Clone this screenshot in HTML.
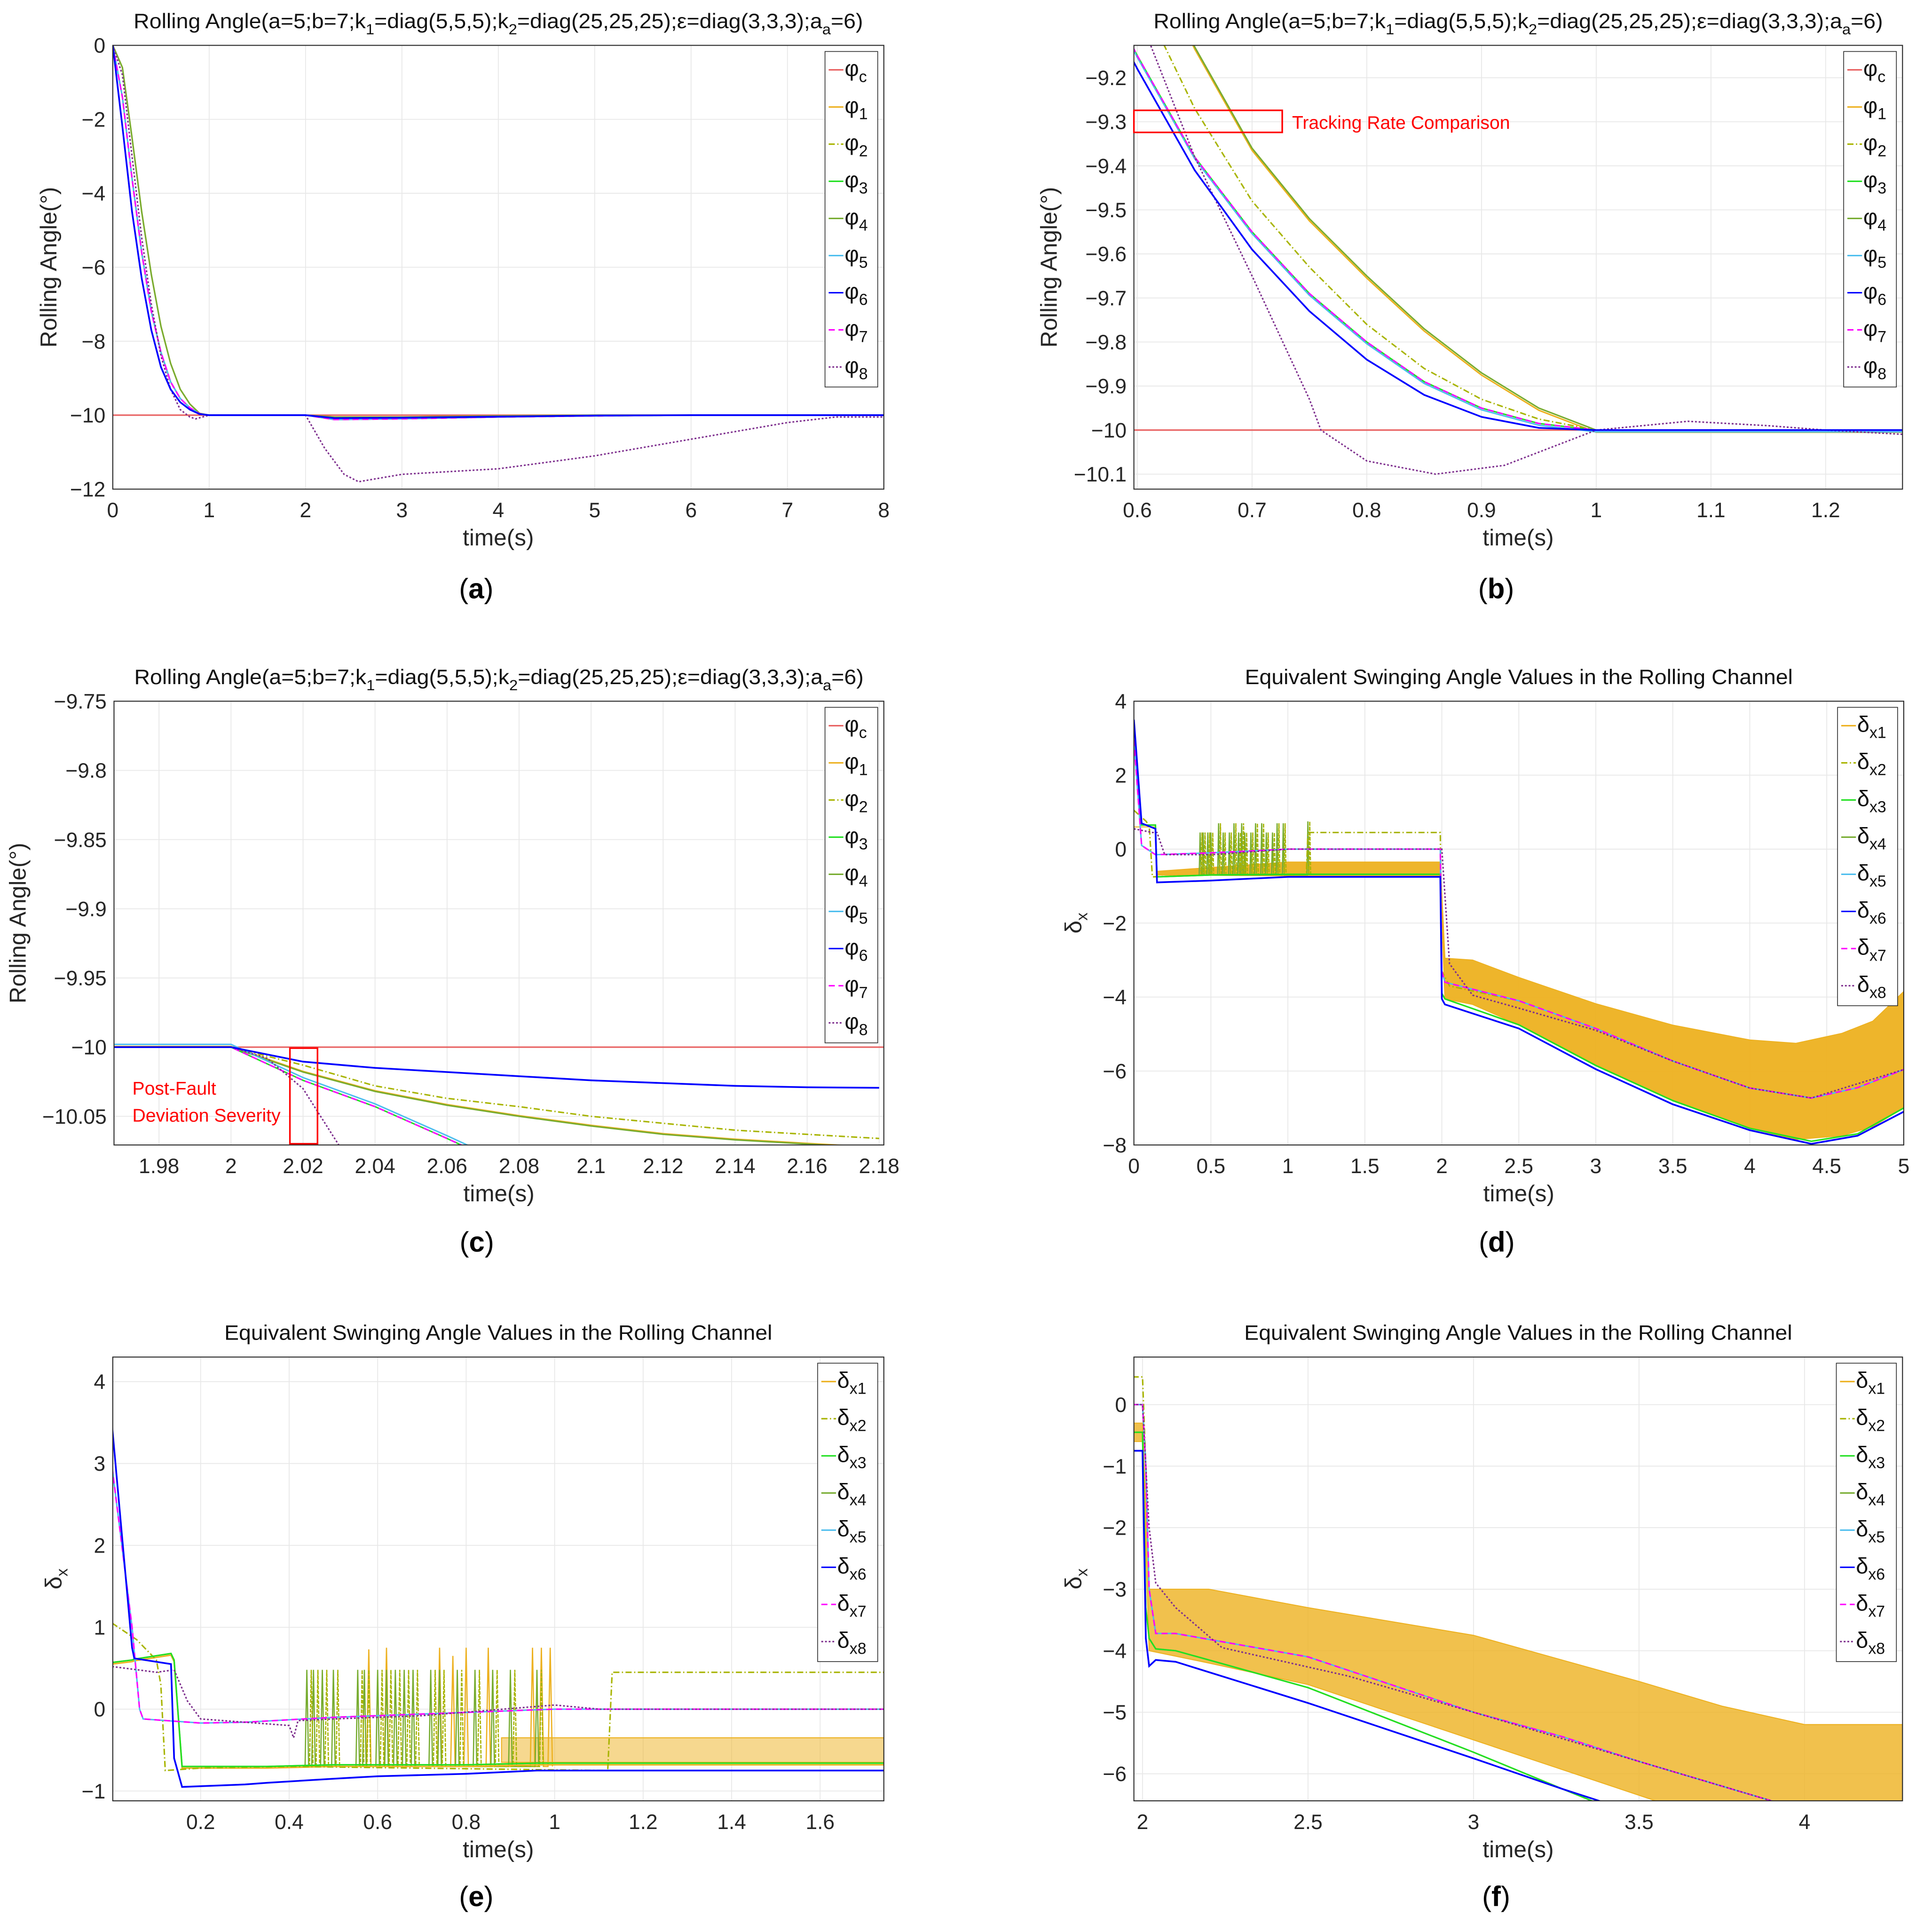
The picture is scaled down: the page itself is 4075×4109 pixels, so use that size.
<!DOCTYPE html>
<html><head><meta charset="utf-8"><style>
html,body{margin:0;padding:0;background:#fff}
svg{display:block}
text{font-family:"Liberation Sans",sans-serif}
</style></head><body>
<svg id="fig" xmlns="http://www.w3.org/2000/svg" width="4075" height="4109" viewBox="0 0 1563 1576" preserveAspectRatio="none"></svg>
<script>
// ---------- Panel (a) data ----------
const a_t = [0,0.1,0.2,0.3,0.4,0.5,0.6,0.7,0.8,0.9,1,2,2.3,3,4,5,6,7,8];
const a_slow = [0,-0.6,-2.5,-4.5,-6.2,-7.6,-8.6,-9.3,-9.7,-9.95,-10,-10,-10.05,-10.05,-10.02,-10,-10,-10,-10];
const a_mid = [0,-1.4,-3.6,-5.6,-7.2,-8.3,-9.1,-9.55,-9.8,-9.96,-10,-10,-10.12,-10.1,-10.05,-10.02,-10,-10,-10];
const a_fast = [0,-2.2,-4.5,-6.3,-7.7,-8.7,-9.3,-9.65,-9.85,-9.97,-10,-10,-10.08,-10.07,-10.04,-10.01,-10,-10,-10];
const a8_t = [0,0.1,0.2,0.3,0.4,0.5,0.6,0.7,0.8,0.86,1,2,2.2,2.4,2.55,3,4,5,6,7,7.5,8];
const a8_y = [0,-0.8,-3,-5.2,-7,-8.4,-9.3,-9.85,-10.05,-10.1,-10,-10,-10.9,-11.6,-11.8,-11.6,-11.45,-11.1,-10.65,-10.2,-10.05,-10.05];
const a_c = [-10,-10];
const a_ct = [0,8];
// ---------- Panel (b) data ----------
const b_t = [0.58,0.6,0.65,0.7,0.75,0.8,0.85,0.9,0.95,1.0,1.1,1.27];
const b_phi1 = [-8.7,-8.85,-9.13,-9.36,-9.52,-9.65,-9.77,-9.87,-9.95,-10,-10,-10];
const b_phi2 = [-8.9,-9.0,-9.27,-9.48,-9.63,-9.76,-9.86,-9.93,-9.975,-10,-10,-10];
const b_phi3 = [-9.05,-9.15,-9.38,-9.55,-9.69,-9.8,-9.89,-9.95,-9.985,-10,-10,-10];
const b_phi6 = [-9.08,-9.18,-9.41,-9.59,-9.73,-9.84,-9.92,-9.97,-9.995,-10,-10,-10];
const b8_t = [0.58,0.6,0.65,0.7,0.75,0.76,0.8,0.86,0.92,1.0,1.08,1.15,1.2,1.27];
const b8_y = [-8.9,-9.05,-9.38,-9.65,-9.93,-10.0,-10.07,-10.1,-10.08,-10.0,-9.98,-9.99,-10.0,-10.01];
// ---------- Panel (c) data ----------
const c_t = [1.96,2.0,2.02,2.04,2.06,2.08,2.1,2.12,2.14,2.16,2.18];
const c_phi6 = [-10,-10,-10.0105,-10.015,-10.018,-10.021,-10.024,-10.026,-10.028,-10.029,-10.0294];
const c_phi2 = [-10,-10,-10.013,-10.028,-10.037,-10.043,-10.05,-10.055,-10.06,-10.063,-10.066];
const c_phi4 = [-10,-10,-10.018,-10.032,-10.042,-10.05,-10.057,-10.063,-10.067,-10.070,-10.073];
const c_phi3 = [-10,-10,-10.024,-10.043,-10.066,-10.09,-10.11,-10.13,-10.15,-10.17,-10.19];
const c8_t = [1.96,2.0,2.01,2.02,2.03,2.04];
const c8_y = [-10,-10,-10.008,-10.03,-10.071,-10.12];
// ---------- Panel (d) data ----------
const d_t = [0,0.05,0.14,0.15,0.5,1.0,1.99,2.0,2.02,2.5,3,3.5,4,4.4,4.7,5];
const d_blue = [3.5,0.7,0.55,-0.9,-0.85,-0.75,-0.75,-4.05,-4.2,-4.85,-5.95,-6.9,-7.6,-7.97,-7.75,-7.1];
const d_green = [2.9,0.65,0.65,-0.75,-0.7,-0.68,-0.68,-3.9,-4.05,-4.75,-5.85,-6.8,-7.55,-7.9,-7.7,-7.0];
const d_mag = [2.95,0.1,-0.15,-0.15,-0.1,0,0,-3.3,-3.6,-4.1,-4.85,-5.73,-6.46,-6.73,-6.45,-5.96];
const d2_t = [0,0.08,0.1,0.12,0.5,1.12,1.13,1.99,2.0,2.05,2.5,3,3.5,4,4.4,4.7,5];
const d2_y = [1.05,0.75,0.6,-0.75,-0.7,-0.7,0.45,0.45,-3.3,-3.7,-4.1,-4.85,-5.73,-6.46,-6.73,-6.45,-5.96];
const d8_t = [0,0.12,0.15,0.2,0.5,1,2,2.05,2.2,2.5,3,3.5,4,4.4,5];
const d8_y = [0.55,0.45,0.45,-0.15,-0.15,0,0,-3.1,-3.95,-4.3,-4.9,-5.73,-6.46,-6.73,-5.96];
const d1_t = [0,0.14,0.15,1.0,1.99,2.02,2.2,2.5,3,3.5,4,4.3,4.6,4.8,5];
const d1_hi = [0.6,0.6,-0.6,-0.35,-0.35,-2.95,-3.0,-3.47,-4.18,-4.76,-5.16,-5.25,-4.98,-4.65,-3.85];
const d1_lo = [0.6,0.6,-0.7,-0.72,-0.72,-4.05,-4.2,-4.75,-5.85,-6.8,-7.55,-7.85,-7.75,-7.5,-7.0];
const d_spx = [0.43,0.45,0.48,0.5,0.55,0.58,0.62,0.65,0.68,0.7,0.72,0.76,0.79,0.83,0.86,0.9,0.93,0.97,1.13];
const d_spy = [0.45,0.45,0.45,0.45,0.7,0.45,0.45,0.7,0.45,0.7,0.45,0.45,0.7,0.7,0.45,0.45,0.7,0.7,0.75];
// ---------- Panel (e) data ----------
const e_t = [0,0.045,0.05,0.133,0.14,0.158,0.3,0.35,0.5,0.6,0.8,0.96,1.2,1.75];
const e_blue = [3.45,0.75,0.62,0.55,-0.6,-0.95,-0.92,-0.9,-0.85,-0.82,-0.79,-0.75,-0.75,-0.75];
const e_green = [0.57,0.6,0.61,0.68,0.6,-0.7,-0.7,-0.7,-0.68,-0.68,-0.68,-0.66,-0.66,-0.66];
const e3_t = [0,0.045,0.062,0.07,0.2,0.3,0.5,0.8,1.0,1.1,1.75];
const e_mag = [2.95,1.0,0.0,-0.12,-0.17,-0.16,-0.1,-0.04,0.0,0.0,0.0];
const e2_t = [0,0.055,0.1,0.11,0.12,0.2,0.4,1.12,1.13,1.75];
const e2_y = [1.05,0.85,0.6,0.3,-0.75,-0.72,-0.7,-0.75,0.45,0.45];
const e8_t = [0,0.1,0.14,0.17,0.2,0.3,0.4,0.41,0.42,0.5,0.7,1.0,1.1,1.75];
const e8_y = [0.52,0.45,0.48,0.1,-0.12,-0.16,-0.2,-0.35,-0.14,-0.12,-0.08,0.05,0.0,0.0];
const e1_t = [0.88,1.0,1.2,1.4,1.6,1.75];
const e1_hi = [-0.35,-0.35,-0.35,-0.35,-0.35,-0.35];
const e1_lo = [-0.65,-0.65,-0.65,-0.65,-0.65,-0.65];
const e_spx = [0.44,0.455,0.475,0.5,0.555,0.57,0.6,0.62,0.64,0.66,0.68,0.72,0.74,0.78,0.82,0.86,0.9,0.96];
const e_spy = [0.48,0.48,0.48,0.48,0.48,0.48,0.48,0.48,0.48,0.48,0.48,0.48,0.48,0.48,0.48,0.48,0.48,0.48];
const e_osx = [0.58,0.62,0.74,0.77,0.8,0.85,0.95,0.97,0.99];
const e_osy = [0.73,0.75,0.75,0.65,0.75,0.75,0.75,0.75,0.75];
// ---------- Panel (f) data ----------
const f_t = [1.97,2.0,2.01,2.02,2.04,2.1,2.5,3,3.27,3.5,4,4.3];
const f_blue = [-0.75,-0.75,-3.8,-4.25,-4.15,-4.18,-4.85,-5.75,-6.25,-6.65,-7.5,-8.0];
const f_green = [-0.45,-0.45,-3.3,-3.8,-3.97,-4.0,-4.6,-5.65,-6.25,-6.75,-7.8,-8.4];
const f_mag = [0,0,-1.0,-3.0,-3.72,-3.72,-4.1,-5.0,-5.4,-5.8,-6.6,-7.0];
const f_d2 = [0.45,0.45,-1.0,-3.0,-3.72,-3.72,-4.1,-5.0,-5.4,-5.8,-6.6,-7.0];
const f8_t = [1.97,2.0,2.02,2.04,2.1,2.24,2.62,3,3.5,4,4.3];
const f8_y = [0,0,-2.0,-2.9,-3.3,-3.95,-4.41,-5.0,-5.8,-6.6,-7.0];
const f1_t = [1.97,2.0,2.02,2.2,2.5,3,3.5,3.75,4,4.3];
const f1_hi = [-0.3,-0.3,-3.0,-3.0,-3.3,-3.75,-4.5,-4.9,-5.2,-5.2];
const f1_lo = [-0.6,-0.6,-4.0,-4.2,-4.55,-5.45,-6.35,-6.8,-7.2,-7.6];

const NS="http://www.w3.org/2000/svg";
const svg=document.getElementById('fig');
function el(tag,attrs,parent){const e=document.createElementNS(NS,tag);for(const k in attrs)e.setAttribute(k,attrs[k]);(parent||svg).appendChild(e);return e;}

const C={c:'#e86060',o:'#EDB120',y:'#a8b400',g:'#22e022',ol:'#77AC30',cy:'#4DBEEE',b:'#0000ff',m:'#ff00ff',p:'#7E2F8E'};
const STY=[[C.c,''],[C.o,''],[C.y,'5,2,1,2'],[C.g,''],[C.ol,''],[C.cy,''],[C.b,''],[C.m,'5,3'],[C.p,'1.5,1.5']];

function panel(P,idx){
  const g=el('g',{});
  
  
  const sx=v=>P.x0+(v-P.xmin)/(P.xmax-P.xmin)*(P.x1-P.x0);
  const sy=v=>P.y1-(v-P.ymin)/(P.ymax-P.ymin)*(P.y1-P.y0);
  el('rect',{x:P.x0,y:P.y0,width:P.x1-P.x0,height:P.y1-P.y0,fill:'#fff'},g);
  const grid=el('g',{stroke:'#e8e8e8','stroke-width':0.7},g);
  
  P.xt.forEach(v=>{el('line',{x1:sx(v),x2:sx(v),y1:P.y0,y2:P.y1},grid);});
  P.yt.forEach(v=>{el('line',{y1:sy(v),y2:sy(v),x1:P.x0,x2:P.x1},grid);});
  const cid='clip'+idx;
  const cp=el('clipPath',{id:cid},g);el('rect',{x:P.x0,y:P.y0,width:P.x1-P.x0,height:P.y1-P.y0},cp);
  const plot=el('g',{'clip-path':'url(#'+cid+')'},g);
  
  (P.bands||[]).forEach(bd=>{
    let pts=bd.x.map((v,i)=>sx(v)+','+sy(bd.hi[i]));
    pts=pts.concat(bd.x.map((v,i)=>sx(v)+','+sy(bd.lo[i])).reverse());
    const p=el('polygon',{points:pts.join(' '),fill:C.o,'fill-opacity':bd.op||0.95,stroke:C.o,'stroke-width':0.8},plot);
    
  });
  (P.pre||[]).forEach(f=>f(plot,sx,sy));
  P.series.forEach(s=>{
    const st=STY[s.k];
    const pts=s.x.map((v,i)=>sx(v).toFixed(2)+','+sy(s.y[i]).toFixed(2)).join(' ');
    const l=el('polyline',{points:pts,fill:'none',stroke:st[0],'stroke-width':s.k==6?1.4:1.2,'stroke-dasharray':st[1]},plot);
    
  });
  (P.extra||[]).forEach(f=>f(plot,sx,sy));
  el('rect',{x:P.x0,y:P.y0,width:P.x1-P.x0,height:P.y1-P.y0,fill:'none',stroke:'#262626','stroke-width':0.8},g);
  const tk=el('g',{'font-size':17,fill:'#262626'},g);
  
  P.xt.forEach((v,i)=>{const t=el('text',{x:sx(v),y:P.y1+23,'text-anchor':'middle'},tk);t.textContent=P.xl[i];});
  P.yt.forEach((v,i)=>{const t=el('text',{x:P.x0-6,y:sy(v)+6,'text-anchor':'end'},tk);t.textContent=P.yl[i];});
  const xl=el('text',{x:(P.x0+P.x1)/2,y:P.y1+46,'text-anchor':'middle','font-size':19,fill:'#262626'},g);xl.textContent='time(s)';
  
  const yx=P.x0-P.ylo, yy=(P.y0+P.y1)/2;
  const yl=el('text',{x:yx,y:yy,'text-anchor':'middle','font-size':19,fill:'#262626',transform:'rotate(-90 '+yx+' '+yy+')'},g);
  
  if(P.delta){yl.textContent='δ';const ts=el('tspan',{'font-size':13,dy:5},yl);ts.textContent='x';}else yl.textContent='Rolling Angle(°)';
  const tt=el('text',{x:(P.x0+P.x1)/2,y:P.y0-14,'text-anchor':'middle','font-size':17,fill:'#111'},g);
  
  if(P.delta){tt.textContent='Equivalent Swinging Angle Values in the Rolling Channel';tt.setAttribute('textLength',447);tt.setAttribute('lengthAdjust','spacingAndGlyphs');}
  else{const parts=[['Rolling Angle(a=5;b=7;k',0],['1',1],['=diag(5,5,5);k',0],['2',1],['=diag(25,25,25);ε=diag(3,3,3);a',0],['a',1],['=6)',0]];
    let prev=0;
    parts.forEach(p=>{const dy=p[1]?5:(prev?-5:0);const s=el('tspan',{'font-size':p[1]?12:17,dy:dy},tt);s.textContent=p[0];prev=p[1];});
    tt.setAttribute('textLength',595);tt.setAttribute('lengthAdjust','spacingAndGlyphs');
  }
  // legend
  const lg=el('g',{},g);
  const lw=P.delta?49:43, lx=P.x1-lw-5, ly=P.y0+5;
  const n=P.delta?8:9;
  el('rect',{x:lx,y:ly,width:lw,height:n*30.3+1,fill:'#fff',stroke:'#262626','stroke-width':0.6},lg);
  for(let i=0;i<n;i++){
    const st=STY[P.delta?i+1:i];
    const yy2=ly+15+i*30.3;
    const e=el('g',{},lg);
    el('line',{x1:lx+3,x2:lx+15,y1:yy2,y2:yy2,stroke:st[0],'stroke-width':1.2,'stroke-dasharray':st[1]},e);
    const t=el('text',{x:lx+16,y:yy2+5,'font-size':18,fill:'#111'},e);
    t.textContent=P.delta?'δ':'φ';
    const s=el('tspan',{'font-size':13,dy:5},t);s.textContent=P.delta?('x'+(i+1)):(i==0?'c':String(i));
  }
  const pl=el('text',{x:(P.x0+P.x1)/2-18,y:P.lab,'text-anchor':'middle','font-size':23,'font-family':'Liberation Serif,serif',fill:'#000'},g);
  
  pl.appendChild(document.createTextNode('('));const b=el('tspan',{'font-weight':'bold'},pl);b.textContent=P.letter;pl.appendChild(document.createTextNode(')'));
}
function spikes(xsA,ysA,base,color,dash,w){return (plot,sx,sy)=>{
  let pts=[];xsA.forEach((v,i)=>{pts.push(sx(v-w)+','+sy(base));pts.push(sx(v)+','+sy(ysA[i]));pts.push(sx(v+w)+','+sy(base));});
  const l=el('polyline',{points:pts.join(' '),fill:'none',stroke:color,'stroke-width':1,'stroke-dasharray':dash||''},plot);
  };}

const rng=(a,b,s)=>{const r=[];for(let v=a;v<=b+1e-9;v+=s)r.push(+v.toFixed(4));return r;};

// Panel a
panel({name:'panel-a',letter:'a',x0:92,x1:721,y0:37,y1:399,xmin:0,xmax:8,ymin:-12,ymax:0,lab:488,ylo:46,
 xt:rng(0,8,1),xl:rng(0,8,1).map(String),yt:[-12,-10,-8,-6,-4,-2,0],yl:['−12','−10','−8','−6','−4','−2','0'],
 series:[{k:0,x:a_ct,y:a_c},{k:1,x:a_t,y:a_slow},{k:4,x:a_t,y:a_slow},{k:2,x:a_t,y:a_mid},{k:3,x:a_t,y:a_mid},{k:5,x:a_t,y:a_mid},{k:7,x:a_t,y:a_mid},{k:8,x:a8_t,y:a8_y},{k:6,x:a_t,y:a_fast}]},0);
// Panel b
panel({name:'panel-b',letter:'b',x0:925,x1:1552,y0:37,y1:399,xmin:0.597,xmax:1.267,ymin:-10.134,ymax:-9.1265,lab:488,ylo:63,
 xt:[0.6,0.7,0.8,0.9,1,1.1,1.2],xl:['0.6','0.7','0.8','0.9','1','1.1','1.2'],
 yt:[-10.1,-10,-9.9,-9.8,-9.7,-9.6,-9.5,-9.4,-9.3,-9.2],yl:['−10.1','−10','−9.9','−9.8','−9.7','−9.6','−9.5','−9.4','−9.3','−9.2'],
 series:[{k:0,x:[0.5,1.3],y:[-10,-10]},{k:1,x:b_t,y:b_phi1.map(v=>v-0.005)},{k:4,x:b_t,y:b_phi1},{k:2,x:b_t,y:b_phi2},{k:3,x:b_t,y:b_phi3},{k:5,x:b_t,y:b_phi3.map(v=>v-0.004)},{k:7,x:b_t,y:b_phi3},{k:8,x:b8_t,y:b8_y},{k:6,x:b_t,y:b_phi6}]},1);
// Panel c
panel({name:'panel-c',letter:'c',x0:93,x1:721,y0:572,y1:934,xmin:1.9675,xmax:2.1813,ymin:-10.0707,ymax:-9.75,lab:1021,ylo:72,
 xt:[1.98,2,2.02,2.04,2.06,2.08,2.1,2.12,2.14,2.16,2.18],xl:['1.98','2','2.02','2.04','2.06','2.08','2.1','2.12','2.14','2.16','2.18'],
 yt:[-10.05,-10,-9.95,-9.9,-9.85,-9.8,-9.75],yl:['−10.05','−10','−9.95','−9.9','−9.85','−9.8','−9.75'],
 series:[{k:0,x:[1.95,2.2],y:[-10,-10]},{k:2,x:c_t,y:c_phi2},{k:1,x:c_t,y:c_phi4.map(v=>v+0.0005)},{k:4,x:c_t,y:c_phi4},{k:5,x:c_t,y:c_phi3.map(v=>v+0.002)},{k:3,x:c_t,y:c_phi3},{k:7,x:c_t,y:c_phi3},{k:8,x:c8_t,y:c8_y},{k:6,x:c_t,y:c_phi6}]},2);
// Panel d
panel({name:'panel-d',letter:'d',delta:true,x0:925,x1:1553,y0:572,y1:934,xmin:0,xmax:5,ymin:-8,ymax:4,lab:1021,ylo:43,
 xt:rng(0,5,0.5),xl:['0','0.5','1','1.5','2','2.5','3','3.5','4','4.5','5'],yt:[-8,-6,-4,-2,0,2,4],yl:['−8','−6','−4','−2','0','2','4'],
 bands:[{x:d1_t,hi:d1_hi,lo:d1_lo}],
 pre:[spikes(d_spx,d_spy,-0.7,C.ol,'',0.006),spikes(d_spx.map(v=>v+0.012),d_spy,-0.7,C.y,'3,1',0.006)],
 series:[{k:2,x:d2_t,y:d2_y},{k:4,x:d_t,y:d_green},{k:3,x:d_t,y:d_green},{k:5,x:d_t,y:d_mag},{k:7,x:d_t,y:d_mag},{k:8,x:d8_t,y:d8_y},{k:6,x:d_t,y:d_blue}]},3);
// Panel e
panel({name:'panel-e',letter:'e',delta:true,x0:92,x1:721,y0:1107,y1:1469,xmin:0.0014,xmax:1.744,ymin:-1.12,ymax:4.3,lab:1555,ylo:42,
 xt:[0.2,0.4,0.6,0.8,1,1.2,1.4,1.6],xl:['0.2','0.4','0.6','0.8','1','1.2','1.4','1.6'],yt:[-1,0,1,2,3,4],yl:['−1','0','1','2','3','4'],
 bands:[{x:e1_t,hi:e1_hi,lo:e1_lo,op:0.5}],
 pre:[spikes(e_osx,e_osy,-0.7,C.o,'',0.005),spikes(e_spx,e_spy,-0.7,C.ol,'',0.004),spikes(e_spx.map(v=>v+0.01),e_spy,-0.7,C.y,'3,1',0.004)],
 series:[{k:1,x:e_t,y:e_green.map(v=>v-0.02)},{k:2,x:e2_t,y:e2_y},{k:4,x:e_t,y:e_green},{k:3,x:e_t,y:e_green},{k:5,x:e3_t,y:e_mag},{k:7,x:e3_t,y:e_mag},{k:8,x:e8_t,y:e8_y},{k:6,x:e_t,y:e_blue}]},4);
// Panel f
panel({name:'panel-f',letter:'f',delta:true,x0:925,x1:1552,y0:1107,y1:1469,xmin:1.974,xmax:4.296,ymin:-6.44,ymax:0.773,lab:1555,ylo:43,
 xt:[2,2.5,3,3.5,4],xl:['2','2.5','3','3.5','4'],yt:[-6,-5,-4,-3,-2,-1,0],yl:['−6','−5','−4','−3','−2','−1','0'],
 bands:[{x:f1_t,hi:f1_hi,lo:f1_lo,op:0.8}],
 series:[{k:2,x:f_t,y:f_d2},{k:4,x:f_t,y:f_green},{k:3,x:f_t,y:f_green},{k:5,x:f_t,y:f_mag},{k:7,x:f_t,y:f_mag},{k:8,x:f8_t,y:f8_y},{k:6,x:f_t,y:f_blue}]},5);

// annotations
const ann=el('g',{},svg);
el('rect',{x:925,y:90,width:121,height:18,fill:'none',stroke:'#ff0000','stroke-width':1.3},ann);
let t1=el('text',{x:1054,y:105,'font-size':15,fill:'#ff0000'},ann);t1.textContent='Tracking Rate Comparison';
el('rect',{x:236.5,y:855,width:22.5,height:78,fill:'none',stroke:'#ff0000','stroke-width':1.3},ann);
let t2=el('text',{x:108,y:893,'font-size':15,fill:'#ff0000'},ann);t2.textContent='Post-Fault';
let t3=el('text',{x:108,y:915,'font-size':15,fill:'#ff0000'},ann);t3.textContent='Deviation Severity';
</script>
</body></html>
